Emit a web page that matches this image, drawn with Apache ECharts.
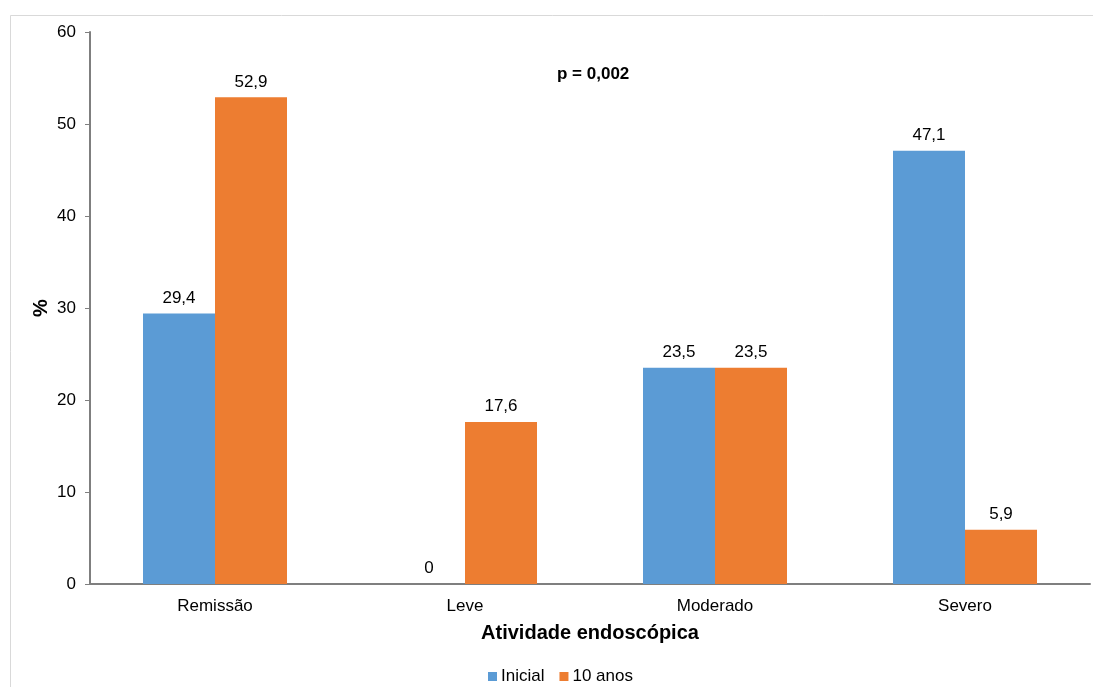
<!DOCTYPE html>
<html>
<head>
<meta charset="utf-8">
<script src="https://cdn.jsdelivr.net/npm/echarts@6/dist/echarts.min.js"></script>
<style>
  html, body { margin: 0; padding: 0; background: #ffffff; }
  #chart { width: 1093px; height: 687px; }
</style>
</head>
<body>
<div id="chart"></div>
<script>
// Endoscopic activity at baseline vs. 10 years (%)
const categories = ['Remissão', 'Leve', 'Moderado', 'Severo'];
const inicial = [29.4, 0, 23.5, 47.1];
const dezAnos = [52.9, 17.6, 23.5, 5.9];
const seriesNames = ['Inicial', '10 anos'];
const yTicks = { min: 0, max: 60, interval: 10 };

const FONT = '"Liberation Sans", Arial, sans-serif';
const fmt = p => String(p.value).replace('.', ',');

const chart = echarts.init(document.getElementById('chart'), null, { renderer: 'canvas' });

const labelStyle = {
  show: true,
  position: 'top',
  distance: 7,
  color: '#000',
  fontFamily: FONT,
  fontSize: 17,
  formatter: fmt
};

chart.setOption({
  animation: false,
  backgroundColor: '#ffffff',
  textStyle: { fontFamily: FONT },
  graphic: [
    {
      type: 'rect',
      shape: { x: 10.5, y: 15.5, width: 1200, height: 800 },
      style: { fill: 'none', stroke: '#d9d9d9', lineWidth: 1 },
      silent: true,
      z: -1
    },
    {
      type: 'text',
      left: 557,
      top: 66,
      style: { text: 'p = 0,002', fontFamily: FONT, fontSize: 17, fontWeight: 'bold', fill: '#000' }
    }
  ],
  grid: { left: 90, right: 3, top: 32, bottom: 103, containLabel: false },
  legend: {
    top: 663,
    left: 483,
    itemWidth: 9,
    itemHeight: 9,
    itemGap: 15,
    icon: 'rect',
    textStyle: { fontFamily: FONT, fontSize: 17, color: '#000', padding: [0, 0, 0, -1] },
    data: seriesNames
  },
  xAxis: {
    type: 'category',
    data: categories,
    name: 'Atividade endoscópica',
    nameLocation: 'middle',
    nameGap: 39,
    nameMoveOverlap: false,
    nameTextStyle: { fontFamily: FONT, fontSize: 20, fontWeight: 'bold', color: '#000' },
    axisLine: { lineStyle: { color: '#7f7f7f', width: 2 } },
    axisTick: { show: false },
    axisLabel: { fontFamily: FONT, fontSize: 17, color: '#000', margin: 14 }
  },
  yAxis: {
    type: 'value',
    min: yTicks.min,
    max: yTicks.max,
    interval: yTicks.interval,
    name: '%',
    nameLocation: 'middle',
    nameGap: 39,
    nameMoveOverlap: false,
    nameRotate: 90,
    nameTextStyle: { fontFamily: FONT, fontSize: 20, fontWeight: 'bold', color: '#000' },
    axisLine: { show: true, lineStyle: { color: '#7f7f7f', width: 2 } },
    axisTick: { show: true, length: 5, lineStyle: { color: '#7f7f7f', width: 1 } },
    axisLabel: { fontFamily: FONT, fontSize: 17, color: '#000', margin: 14 },
    splitLine: { show: false }
  },
  series: [
    {
      name: seriesNames[0],
      type: 'bar',
      data: inicial,
      barGap: '0%',
      barCategoryGap: '42.4%',
      itemStyle: { color: '#5b9bd5' },
      label: labelStyle
    },
    {
      name: seriesNames[1],
      type: 'bar',
      data: dezAnos,
      barGap: '0%',
      barCategoryGap: '42.4%',
      itemStyle: { color: '#ed7d31' },
      label: labelStyle
    }
  ]
});
</script>
</body>
</html>
